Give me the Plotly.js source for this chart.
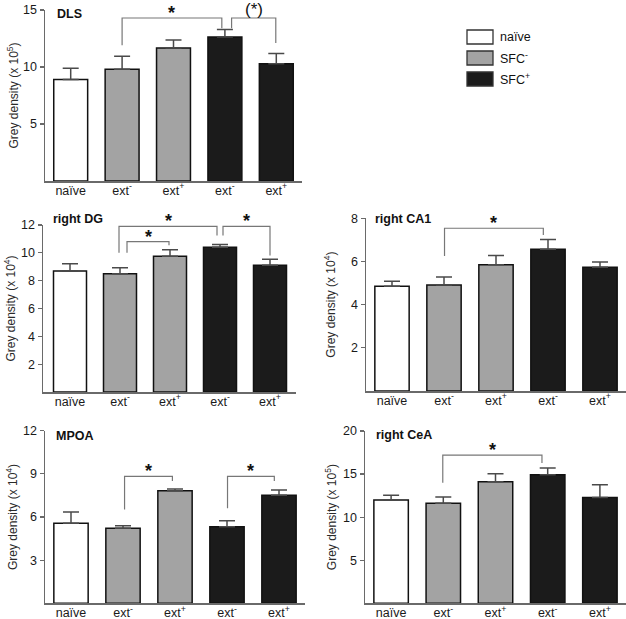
<!DOCTYPE html>
<html>
<head>
<meta charset="utf-8">
<script src="https://cdn.plot.ly/plotly-3.0.1.min.js"></script>
<style>html,body{margin:0;padding:0;background:#fff;}#chart{width:626px;height:619px;}</style>
</head>
<body>
<div id="chart"></div>
<script>
// ---- data ----
const tickLabels = ['naïve', 'ext<sup>-</sup>', 'ext<sup>+</sup>', 'ext<sup>-</sup>', 'ext<sup>+</sup>'];
const groups = ['naïve', 'SFC<sup>-</sup>', 'SFC<sup>-</sup>', 'SFC<sup>+</sup>', 'SFC<sup>+</sup>'];
const legendLabels = ['naïve', 'SFC<sup>-</sup>', 'SFC<sup>+</sup>'];

const dlsMean  = [8.9, 9.8, 11.67, 12.63, 10.29];
const dlsErr   = [1.0, 1.15, 0.7, 0.65, 0.9];
const dgMean   = [8.7, 8.5, 9.75, 10.4, 9.1];
const dgErr    = [0.52, 0.42, 0.48, 0.2, 0.43];
const ca1Mean  = [4.85, 4.91, 5.85, 6.57, 5.73];
const ca1Err   = [0.23, 0.37, 0.43, 0.45, 0.25];
const mpoaMean = [5.56, 5.21, 7.82, 5.32, 7.52];
const mpoaErr  = [0.78, 0.18, 0.12, 0.42, 0.35];
const ceaMean  = [12.0, 11.6, 14.1, 14.93, 12.27];
const ceaErr   = [0.55, 0.75, 0.95, 0.77, 1.5];

// significance brackets: [xLeft, xRight, top, leftLegEnd, rightLegEnd, label]
const dlsBrackets  = [[1.0, 2.94, 14.3, 11.9, 13.4, '*'], [3.13, 3.99, 14.3, 13.4, 12.1, '(*)']];
const dgBrackets   = [[0.98, 2.94, 11.9, 10.0, 11.25, '*'], [1.14, 1.98, 10.8, 10.0, 10.55, '*'], [3.06, 4.0, 11.9, 11.25, 9.8, '*']];
const ca1Brackets  = [[1.01, 2.91, 7.54, 6.25, 7.23, '*']];
const mpoaBrackets = [[1.03, 1.95, 8.82, 6.53, 8.51, '*'], [3.01, 3.91, 8.82, 6.6, 8.51, '*']];
const ceaBrackets  = [[0.99, 2.89, 17.2, 14.0, 16.3, '*']];

const titles = ['DLS', 'right DG', 'right CA1', 'MPOA', 'right CeA'];
const yTitles = ['Grey density (x 10<sup>5</sup>)', 'Grey density (x 10<sup>4</sup>)', 'Grey density (x 10<sup>4</sup>)', 'Grey density (x 10<sup>4</sup>)', 'Grey density (x 10<sup>5</sup>)'];
const yMax = [15, 12, 8, 12, 20];
const yTicks = [[5, 10, 15], [2, 4, 6, 8, 10, 12], [2, 4, 6, 8], [3, 6, 9, 12], [5, 10, 15, 20]];

// ---- styling / layout ----
const W = 626, H = 619;
const colorMap = {'naïve': '#ffffff', 'SFC<sup>-</sup>': '#a3a3a3', 'SFC<sup>+</sup>': '#1b1b1b'};
const FONT = 'Liberation Sans, Arial, sans-serif';
const axisColor = '#6a6a6a';

// pixel boxes [xLeft, xRight, yTop, yBottom] and x ranges
const boxes = [
  [45, 302, 10, 181],
  [43, 296, 225, 392],
  [366, 626, 218.3, 391],
  [45, 305, 430.7, 603.3],
  [365, 626, 431, 603.3]
];
const xRanges = [[-0.5, 4.5], [-0.54, 4.52], [-0.5, 4.5], [-0.5, 4.5], [-0.5, 4.5]];
const titlePos = [[55, 14], [51, 219], [373, 219], [54, 436], [374, 435]];
const yTitleX = [12, 10, 330, 12, 331];

const means = [dlsMean, dgMean, ca1Mean, mpoaMean, ceaMean];
const errs = [dlsErr, dgErr, ca1Err, mpoaErr, ceaErr];
const brackets = [dlsBrackets, dgBrackets, ca1Brackets, mpoaBrackets, ceaBrackets];

const xs = [0, 1, 2, 3, 4];
const traces = [];
const layout = {
  width: W, height: H,
  margin: {l: 0, r: 0, t: 0, b: 0},
  paper_bgcolor: '#fff', plot_bgcolor: '#fff',
  showlegend: false,
  font: {family: FONT, size: 12.5, color: '#1a1a1a'},
  shapes: [], annotations: []
};

for (let i = 0; i < 5; i++) {
  const n = i === 0 ? '' : String(i + 1);
  const b = boxes[i];
  traces.push({
    type: 'bar', x: xs, y: means[i], width: 0.66,
    xaxis: 'x' + n, yaxis: 'y' + n,
    marker: {color: groups.map(g => colorMap[g]), line: {color: '#111', width: 1.5}},
    error_y: {type: 'data', symmetric: false, array: errs[i], arrayminus: errs[i].map(() => 0),
              color: '#4a4a4a', thickness: 1.5, width: 8},
    hoverinfo: 'skip'
  });
  layout['xaxis' + n] = {
    domain: [b[0] / W, b[1] / W], range: xRanges[i], anchor: 'y' + n,
    showline: true, linecolor: axisColor, linewidth: 1.5,
    tickmode: 'array', tickvals: xs, ticktext: tickLabels, ticks: '',
    ticklabelstandoff: -3,
    showgrid: false, zeroline: false, fixedrange: true,
    tickfont: {family: FONT, size: 12.5, color: '#1a1a1a'}
  };
  layout['yaxis' + n] = {
    domain: [1 - b[3] / H, 1 - b[2] / H], range: [0, yMax[i]], anchor: 'x' + n,
    showline: true, linecolor: axisColor, linewidth: 1.5,
    ticks: 'outside', ticklen: 4, tickwidth: 1.2, tickcolor: axisColor,
    tickmode: 'array', tickvals: yTicks[i],
    showgrid: false, zeroline: false, fixedrange: true,
    tickfont: {family: FONT, size: 12.5, color: '#1a1a1a'}
  };
  // panel title
  layout.annotations.push({
    xref: 'paper', yref: 'paper', x: titlePos[i][0] / W, y: 1 - titlePos[i][1] / H,
    xanchor: 'left', yanchor: 'middle', showarrow: false,
    text: '<b>' + titles[i] + '</b>', font: {family: FONT, size: 12.5, color: '#111'}
  });
  // y title
  layout.annotations.push({
    xref: 'paper', yref: 'paper', x: yTitleX[i] / W, y: 1 - (b[2] + b[3]) / 2 / H,
    xanchor: 'center', yanchor: 'middle', textangle: -90, showarrow: false,
    text: yTitles[i], font: {family: FONT, size: 12, color: '#2a2a2a'}
  });
  // brackets
  brackets[i].forEach(br => {
    const [x0, x1, top, l0, l1, lab] = br;
    layout.shapes.push({
      type: 'path', xref: 'x' + n, yref: 'y' + n,
      path: `M ${x0},${l0} L ${x0},${top} L ${x1},${top} L ${x1},${l1}`,
      line: {color: '#777', width: 1.2}
    });
    layout.annotations.push({
      xref: 'x' + n, yref: 'y' + n, x: (x0 + x1) / 2, y: top,
      xanchor: 'center', yanchor: 'bottom', yshift: lab === '*' ? -7 : -3, showarrow: false,
      text: lab === '*' ? '<b>*</b>' : lab, font: {family: FONT, size: lab === '*' ? 18 : 17, color: '#111'}
    });
  });
}

// manual legend
const legBoxes = [[30, 44], [51, 65], [72, 86]];
legendLabels.forEach((lab, k) => {
  layout.shapes.push({
    type: 'rect', xref: 'paper', yref: 'paper',
    x0: 467 / W, x1: 493 / W, y0: 1 - legBoxes[k][1] / H, y1: 1 - legBoxes[k][0] / H,
    fillcolor: colorMap[lab], line: {color: '#333', width: 1.3}
  });
  layout.annotations.push({
    xref: 'paper', yref: 'paper', x: 498 / W, y: 1 - (legBoxes[k][0] + legBoxes[k][1]) / 2 / H,
    xanchor: 'left', yanchor: 'middle', showarrow: false,
    text: lab, font: {family: FONT, size: 12.5, color: '#111'}
  });
});

Plotly.newPlot('chart', traces, layout, {displayModeBar: false, staticPlot: true});
</script>
</body>
</html>
